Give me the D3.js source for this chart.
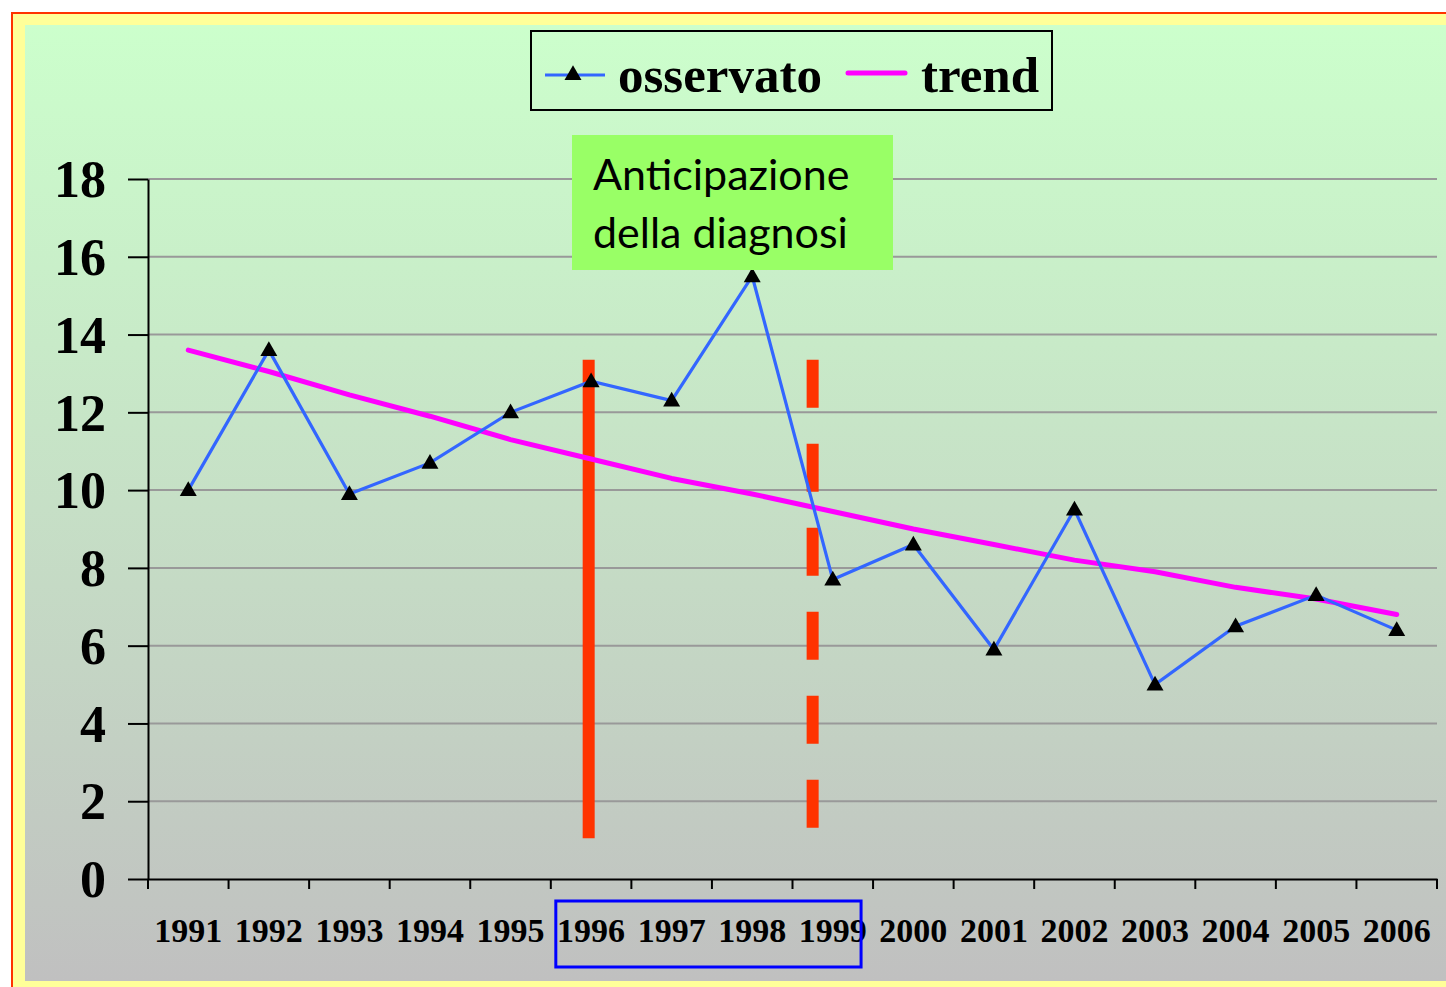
<!DOCTYPE html>
<html>
<head>
<meta charset="utf-8">
<script src="https://cdn.jsdelivr.net/npm/d3@7"></script>
<style>
  html, body { margin: 0; padding: 0; background: #fff; }
  svg { display: block; }
</style>
</head>
<body>
<svg id="chart"></svg>
<script>
// data
const years    = ["1991", "1992", "1993", "1994", "1995", "1996", "1997", "1998",
                  "1999", "2000", "2001", "2002", "2003", "2004", "2005", "2006"];
const observed = [10.0, 13.6, 9.9, 10.7, 12.0, 12.8, 12.3, 15.5,
                  7.7, 8.6, 5.9, 9.5, 5.0, 6.5, 7.3, 6.4];
const trend    = [13.6, 13.05, 12.45, 11.9, 11.3, 10.8, 10.3, 9.9,
                  9.45, 9.0, 8.6, 8.2, 7.9, 7.5, 7.2, 6.8];
const yTicks   = [0, 2, 4, 6, 8, 10, 12, 14, 16, 18];

// red vertical markers (position in year-index units, value range)
const markerPos    = [4.97, 7.75];
const markerLow    = [1.05, 1.3];
const markerHigh   = [13.35, 13.35];
const markerDashed = [false, true];

const legendLabels = ["osservato", "trend"];
const noteLines    = ["Anticipazione", "della diagnosi"];

const W = 1446, H = 987;
const svg = d3.select("#chart").attr("width", W).attr("height", H);

// gradient background
let defs = svg.append("defs");
let grad = defs.append("linearGradient")
               .attr("id", "bg").attr("x1", 0).attr("y1", 0).attr("x2", 0).attr("y2", 1);
grad.append("stop").attr("offset", "0%").attr("stop-color", "#ccffcc");
grad.append("stop").attr("offset", "100%").attr("stop-color", "#c0c0c0");

// frame: red border, yellow band, gradient area
svg.append("rect")
   .attr("x", 12).attr("y", 13).attr("width", W + 20).attr("height", H + 20)
   .attr("fill", "#ffff99").attr("stroke", "#ff3300").attr("stroke-width", 2);
svg.append("rect")
   .attr("x", 25).attr("y", 25).attr("width", W - 25).attr("height", 956)
   .attr("fill", "url(#bg)");

// scales
let x = d3.scaleBand().domain(years).range([148, 1437]).padding(0);
let y = d3.scaleLinear().domain([0, 18]).range([879, 179]);
let xi = d3.scaleLinear().domain([0, years.length - 1])
           .range([x(years[0]) + x.bandwidth() / 2, x(years[years.length - 1]) + x.bandwidth() / 2]);

// gridlines
svg.append("g")
   .selectAll("line")
   .data(yTicks.filter(d => d > 0))
   .enter()
   .append("line")
   .attr("x1", 148).attr("x2", 1437)
   .attr("y1", d => y(d)).attr("y2", d => y(d))
   .attr("stroke", "#999999").attr("stroke-width", 2);

// y axis
let yAxis = svg.append("g")
               .attr("transform", "translate(148,0)")
               .call(d3.axisLeft(y).tickValues(yTicks).tickSize(20).tickPadding(22).tickSizeOuter(0));
yAxis.select(".domain").attr("stroke", "#000").attr("stroke-width", 2);
yAxis.selectAll(".tick line").attr("stroke", "#000").attr("stroke-width", 2);
yAxis.selectAll(".tick text")
     .attr("font-family", "'Liberation Serif', 'Times New Roman', serif")
     .attr("font-weight", "bold").attr("font-size", 52).attr("fill", "#000")
     .attr("dy", "0.34em");

// x axis
let xAxis = svg.append("g")
               .attr("transform", "translate(0," + y(0) + ")")
               .call(d3.axisBottom(x).tickSize(0).tickPadding(0).tickSizeOuter(0));
xAxis.select(".domain").attr("stroke", "#000").attr("stroke-width", 2);
xAxis.selectAll(".tick text")
     .attr("font-family", "'Liberation Serif', 'Times New Roman', serif")
     .attr("font-weight", "bold").attr("font-size", 34).attr("fill", "#000")
     .attr("y", 63).attr("dy", 0);

// x tick marks at band edges
let edges = years.map(d => x(d)).concat([x(years[years.length - 1]) + x.bandwidth()]);
svg.append("g")
   .selectAll("line")
   .data(edges)
   .enter()
   .append("line")
   .attr("x1", d => d).attr("x2", d => d)
   .attr("y1", y(0)).attr("y2", y(0) + 10)
   .attr("stroke", "#000").attr("stroke-width", 2);

// blue box round 1996-1999 labels
let boxLeft = x("1996") + 5, boxRight = x("1999") + x.bandwidth() - 12;
svg.append("rect")
   .attr("x", boxLeft).attr("y", 901)
   .attr("width", boxRight - boxLeft).attr("height", 66)
   .attr("fill", "none").attr("stroke", "#0000ff").attr("stroke-width", 3);

// red markers
svg.append("g")
   .selectAll("line")
   .data(markerPos)
   .enter()
   .append("line")
   .attr("x1", d => xi(d)).attr("x2", d => xi(d))
   .attr("y1", (d, i) => y(markerHigh[i])).attr("y2", (d, i) => y(markerLow[i]))
   .attr("stroke", "#ff3300").attr("stroke-width", 12)
   .attr("stroke-dasharray", (d, i) => markerDashed[i] ? "48,36" : null);

let cx = d => x(d) + x.bandwidth() / 2;

// trend line
let trendLine = d3.line()
                  .x((d, i) => cx(years[i]))
                  .y(d => y(d));
svg.append("path")
   .attr("d", trendLine(trend))
   .attr("fill", "none").attr("stroke", "#ff00ff").attr("stroke-width", 5)
   .attr("stroke-linecap", "round").attr("stroke-linejoin", "round");

// observed line
let obsLine = d3.line()
                .x((d, i) => cx(years[i]))
                .y(d => y(d));
svg.append("path")
   .attr("d", obsLine(observed))
   .attr("fill", "none").attr("stroke", "#3366ff").attr("stroke-width", 3.2);

let tri = d3.symbol().type(d3.symbolTriangle).size(125);
svg.append("g")
   .selectAll("path")
   .data(observed)
   .enter()
   .append("path")
   .attr("d", tri)
   .attr("transform", (d, i) => "translate(" + cx(years[i]) + "," + (y(d) + 1) + ")")
   .attr("fill", "#000");

// annotation box
let note = svg.append("g");
note.append("rect")
    .attr("x", 572).attr("y", 135).attr("width", 321).attr("height", 135)
    .attr("fill", "#99ff66");
note.selectAll("text")
    .data(noteLines)
    .enter()
    .append("text")
    .attr("x", 593)
    .attr("y", (d, i) => 190 + i * 58)
    .attr("font-family", "Lato, 'Open Sans', sans-serif")
    .attr("font-size", 43)
    .attr("fill", "#000")
    .text(d => d);

// legend
let legend = svg.append("g");
legend.append("rect")
      .attr("x", 531).attr("y", 31).attr("width", 521).attr("height", 79)
      .attr("fill", "none").attr("stroke", "#000").attr("stroke-width", 2);
legend.append("line")
      .attr("x1", 545).attr("x2", 605).attr("y1", 75).attr("y2", 75)
      .attr("stroke", "#3366ff").attr("stroke-width", 3);
legend.append("path")
      .attr("d", tri)
      .attr("transform", "translate(573,75)")
      .attr("fill", "#000");
legend.append("line")
      .attr("x1", 848).attr("x2", 905).attr("y1", 73).attr("y2", 73)
      .attr("stroke", "#ff00ff").attr("stroke-width", 5).attr("stroke-linecap", "round");
legend.selectAll("text")
      .data(legendLabels)
      .enter()
      .append("text")
      .attr("x", (d, i) => i === 0 ? 618 : 921)
      .attr("y", 92)
      .attr("font-family", "'Liberation Serif', 'Times New Roman', serif")
      .attr("font-weight", "bold").attr("font-size", 51)
      .attr("fill", "#000")
      .text(d => d);
</script>
</body>
</html>
